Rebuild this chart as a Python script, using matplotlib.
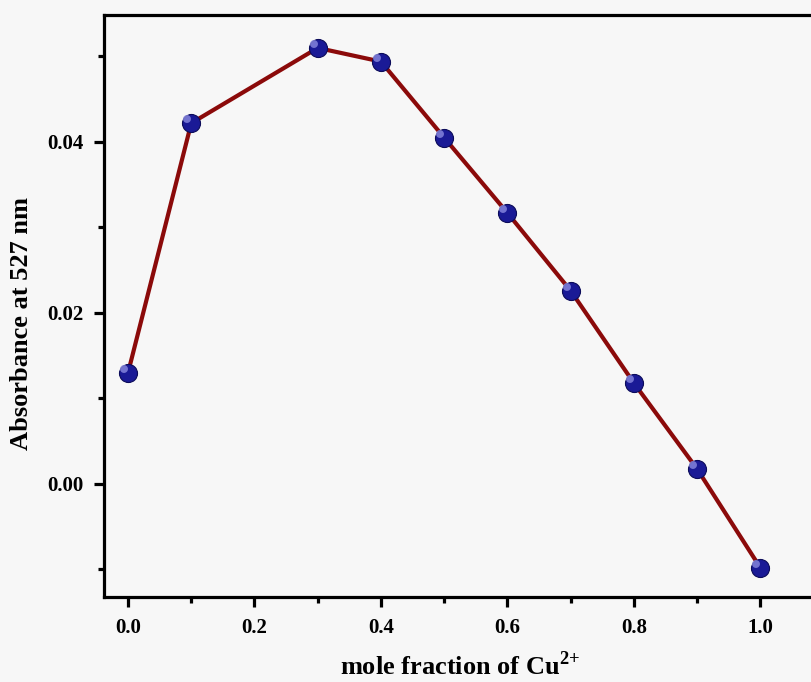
import matplotlib.pyplot as plt
import numpy as np
from matplotlib.path import Path

mole_fraction = [0.0, 0.1, 0.3, 0.4, 0.5, 0.6, 0.7, 0.8, 0.9, 1.0]
absorbance = [0.0130, 0.0422, 0.0510, 0.0494, 0.0405, 0.0317, 0.0226, 0.0118, 0.00175, -0.0098]

plt.rcParams['font.family'] = ['Liberation Serif', 'DejaVu Serif']
plt.rcParams['font.weight'] = 'bold'
plt.rcParams['mathtext.fontset'] = 'custom'
plt.rcParams['mathtext.rm'] = 'Liberation Serif:bold'
plt.rcParams['mathtext.bf'] = 'Liberation Serif:bold'

fig = plt.figure(figsize=(8.12, 6.82), dpi=100)
fig.patch.set_facecolor('#f7f7f7')
ax = fig.add_axes([104 / 812, 1 - 597 / 682, 712 / 812, 582 / 682])
ax.set_facecolor('#f7f7f7')

ax.plot(mole_fraction, absorbance, color='#8b0a0a', linewidth=3, zorder=2)
ax.plot(mole_fraction, absorbance, linestyle='none', marker='o', markersize=13,
        markerfacecolor='#1a1a96', markeredgecolor='#0c0c5a', markeredgewidth=0.8, zorder=3)

# small glossy highlight on each ball
theta = np.linspace(0, 2 * np.pi, 30)
hl = np.column_stack([-0.25 + 0.22 * np.cos(theta), 0.25 + 0.22 * np.sin(theta)])
hl = np.vstack([hl, [[0.5, -0.5], [0.5, -0.5]]])
codes = [Path.MOVETO] + [Path.LINETO] * 29 + [Path.MOVETO, Path.LINETO]
ax.plot(mole_fraction, absorbance, linestyle='none', marker=Path(hl, codes), markersize=13,
        markerfacecolor='#8a8ae0', markeredgewidth=0, alpha=0.8, zorder=4)

ax.set_xlim(-0.038, 1.088)
ax.set_ylim(-0.01322, 0.05485)
ax.set_xticks([0.0, 0.2, 0.4, 0.6, 0.8, 1.0])
ax.set_xticks([0.1, 0.3, 0.5, 0.7, 0.9], minor=True)
ax.set_yticks([0.00, 0.02, 0.04])
ax.set_yticks([-0.01, 0.01, 0.03, 0.05], minor=True)
ax.xaxis.set_major_formatter(plt.FormatStrFormatter('%.1f'))
ax.yaxis.set_major_formatter(plt.FormatStrFormatter('%.2f'))

for s in ax.spines.values():
    s.set_linewidth(2.3)
ax.tick_params(which='major', direction='out', length=7, width=2.3, labelsize=15, pad=8)
ax.tick_params(which='minor', direction='out', length=4, width=2.3)
for lab in ax.get_xticklabels() + ax.get_yticklabels():
    lab.set_family('Liberation Serif')
    lab.set_fontweight('bold')

ax.set_xlabel('mole fraction of Cu$^{2{+}}$', fontsize=19, fontweight='bold', labelpad=10)
ax.set_ylabel('Absorbance at 527 nm', fontsize=19, fontweight='bold')
ax.yaxis.set_label_coords(-0.10, 0.47)

fig.savefig('out.png', dpi=100, facecolor=fig.get_facecolor())
